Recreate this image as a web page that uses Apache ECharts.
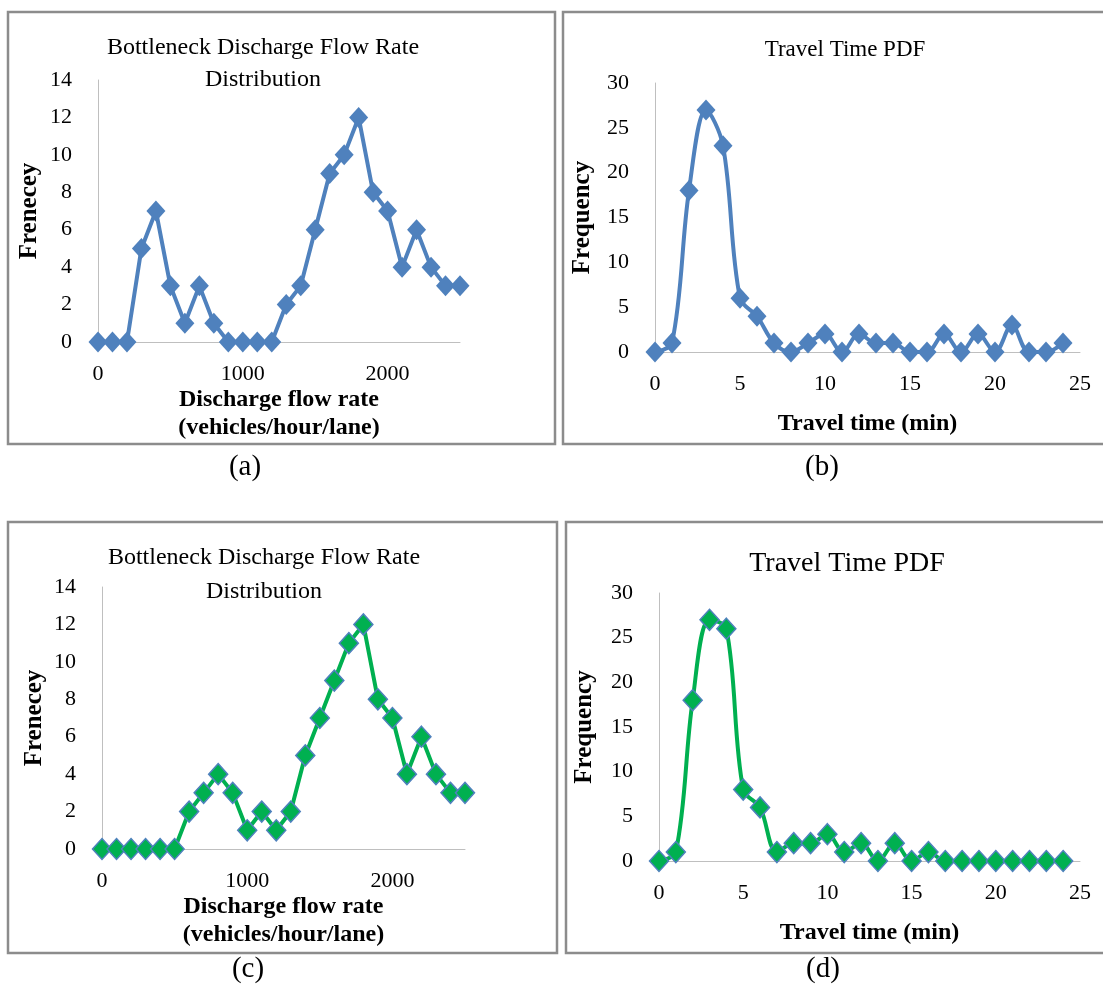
<!DOCTYPE html>
<html>
<head>
<meta charset="utf-8">
<script src="https://cdn.jsdelivr.net/npm/echarts@6/dist/echarts.min.js"></script>
<style>
html,body{margin:0;padding:0;background:#fff;}
#c{width:1103px;height:994px;}
</style>
</head>
<body>
<div id="c"></div>
<script>
// ---- data ----
const flowRates = [0,100,200,300,400,500,600,700,800,900,1000,1100,1200,1300,1400,1500,1600,1700,1800,1900,2000,2100,2200,2300,2400,2500];
const freqA = [0,0,0,5,7,3,1,3,1,0,0,0,0,2,3,6,9,10,12,8,7,4,6,4,3,3];
const freqC = [0,0,0,0,0,0,2,3,4,3,1,2,1,2,5,7,9,11,12,8,7,4,6,4,3,3];
const travelTimes = [0,1,2,3,4,5,6,7,8,9,10,11,12,13,14,15,16,17,18,19,20,21,22,23,24];
const freqB = [0,1,18,27,23,6,4,1,0,1,2,0,2,1,1,0,0,2,0,2,0,3,0,0,1];
const freqD = [0,1,18,27,26,8,6,1,2,2,3,1,2,0,2,0,1,0,0,0,0,0,0,0,0];
const titles = ['Bottleneck Discharge Flow Rate\nDistribution','Travel Time PDF','Bottleneck Discharge Flow Rate\nDistribution','Travel Time PDF'];
const captions = ['(a)','(b)','(c)','(d)'];
const flowName = 'Discharge flow rate\n(vehicles/hour/lane)';
const timeName = 'Travel time (min)';

const FONT = '"Liberation Serif", "Times New Roman", serif';
const BLUE = '#4F81BD';
const GREEN = '#00B050';

const chart = echarts.init(document.getElementById('c'), null, {renderer:'canvas'});

const grids = [
  {left:98, top:80, width:362, height:262},
  {left:655, top:83, width:425, height:269},
  {left:102, top:587, width:363, height:262},
  {left:659, top:593, width:421, height:268}
];

function xAx(i, max, interval, name, gap, fmt){
  return {
    type:'value', gridIndex:i, min:0, max:max, interval:interval,
    axisLine:{show:true, onZero:false, lineStyle:{color:'#BFBFBF', width:1}},
    axisTick:{show:false}, splitLine:{show:false},
    axisLabel:{color:'#000', fontFamily:FONT, fontSize:22, margin:21,
      formatter: fmt},
    name:name, nameLocation:'middle', nameGap:gap,
    nameTextStyle:{color:'#000', fontFamily:FONT, fontSize:24, fontWeight:'bold', lineHeight:28}
  };
}
function yAx(i, max, interval, name, gap){
  return {
    type:'value', gridIndex:i, min:0, max:max, interval:interval,
    axisLine:{show:true, lineStyle:{color:'#BFBFBF', width:1}},
    axisTick:{show:false}, splitLine:{show:false},
    axisLabel:{color:'#000', fontFamily:FONT, fontSize:22, margin:26},
    name:name, nameLocation:'middle', nameGap:gap, nameRotate:90,
    nameTextStyle:{color:'#000', fontFamily:FONT, fontSize:25, fontWeight:'bold'}
  };
}
const kFmt = v => (v % 1000 === 0 ? String(v) : '');

function seriesOf(i, xs, ys, green, smooth){
  return {
    type:'line', xAxisIndex:i, yAxisIndex:i,
    data: xs.map((x,k)=>[x, ys[k]]),
    smooth: smooth ? 0.35 : false,
    symbol:'diamond', symbolSize:[19,21],
    lineStyle:{color: green ? GREEN : BLUE, width:4},
    itemStyle: green ? {color:GREEN, borderColor:BLUE, borderWidth:1.5} : {color:BLUE},
    emphasis:{disabled:true},
    animation:false, z:3
  };
}

const borders = [
  {x:8, y:12, w:547, h:432},
  {x:563, y:12, w:548, h:432},
  {x:8, y:522, w:549, h:431},
  {x:566, y:522, w:545, h:431}
];
const titlePos = [
  {x:263, y:32, size:24, lh:32},
  {x:845, y:34, size:23, lh:32},
  {x:264, y:541, size:24, lh:34},
  {x:847, y:547, size:28, lh:34}
];
const capPos = [{x:245,y:467},{x:822,y:467},{x:248,y:969},{x:823,y:969}];

const graphics = [];
borders.forEach(b=>graphics.push({type:'rect', shape:{x:b.x, y:b.y, width:b.w, height:b.h},
  style:{fill:null, stroke:'#8C8C8C', lineWidth:2.5}, silent:true, z:0}));
titlePos.forEach((p,i)=>graphics.push({type:'text', x:p.x, y:p.y,
  style:{text:titles[i], fill:'#000', font:`${p.size}px ${FONT}`, textAlign:'center', textVerticalAlign:'top', lineHeight:p.lh}, z:5}));
capPos.forEach((p,i)=>graphics.push({type:'text', x:p.x, y:p.y,
  style:{text:captions[i], fill:'#000', font:`29px ${FONT}`, textAlign:'center', textVerticalAlign:'middle'}, z:5}));

chart.setOption({
  animation:false,
  backgroundColor:'#fff',
  grid: grids,
  xAxis: [
    xAx(0, 2500, 1000, flowName, 41, kFmt),
    xAx(1, 25, 5, timeName, 58),
    xAx(2, 2500, 1000, flowName, 41, kFmt),
    xAx(3, 25, 5, timeName, 58)
  ],
  yAxis: [
    yAx(0, 14, 2, 'Frenecey', 56),
    yAx(1, 30, 5, 'Frequency', 60),
    yAx(2, 14, 2, 'Frenecey', 55),
    yAx(3, 30, 5, 'Frequency', 62)
  ],
  series: [
    seriesOf(0, flowRates, freqA, false, false),
    seriesOf(1, travelTimes, freqB, false, true),
    seriesOf(2, flowRates, freqC, true, false),
    seriesOf(3, travelTimes, freqD, true, true)
  ],
  graphic: graphics
});
</script>
</body>
</html>
